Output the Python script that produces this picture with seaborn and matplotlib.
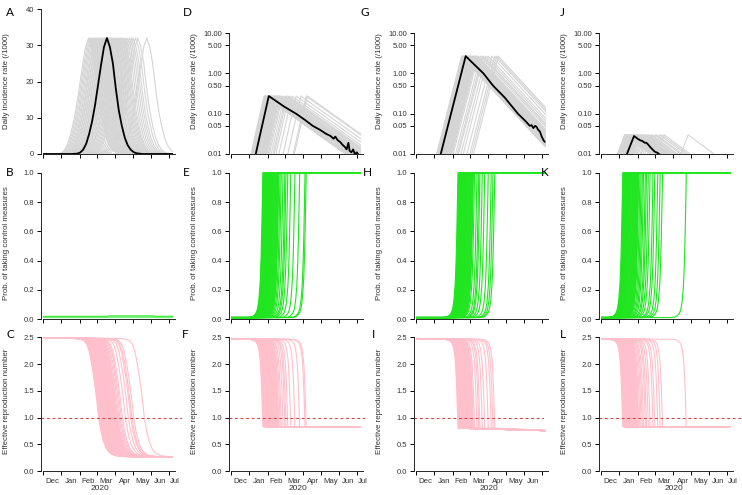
import matplotlib
matplotlib.use("Agg")
import pandas as pd
import matplotlib.pyplot as plt
import seaborn as sns
from matplotlib.patches import Rectangle
from matplotlib.ticker import FixedLocator, FixedFormatter, NullFormatter, NullLocator

# x axis is days since 1 Dec 2019
MONTH_STARTS = [0, 31, 62, 91, 122, 152, 183, 213]
MONTH_LABEL_DAYS = [16, 47, 77, 107, 138, 168, 198, 222]
MONTH_LABELS = ["Dec", "Jan", "Feb", "Mar", "Apr", "May", "Jun", "Jul"]
LAST_DAY = 220

# ---- column 1 (A, B, C) ----
A_SHAPE_OFFSETS = [-60, -50, -45, -40, -35, -30, -25, -20, -15, -10, -5, 0,
                   5, 10, 15, 20, 25, 30, 35, 40, 45, 50, 60]
A_SHAPE_VALUES = [0.0, 0.1, 0.4, 1.2, 2.8, 5.5, 9.0, 13.5, 19.0, 24.5, 29.5, 32.0,
                  29.5, 25.0, 18.0, 12.0, 7.8, 4.5, 2.4, 1.2, 0.5, 0.2, 0.0]
A_BLACK_PEAK = 108
A_GREY_PEAKS = [77, 79, 81, 83, 85, 87, 89, 90, 92, 93, 95, 96, 98, 99, 101, 102,
                104, 105, 107, 109, 110, 112, 113, 115, 116, 118, 120, 121, 123, 125,
                127, 129, 131, 133, 135, 137, 140, 143, 146, 149, 152, 156, 160, 175]
A_DAMPED_PEAKS = [121]
A_DAMPED_SCALES = [0.05]

B_DAYS = [0, 108, 112, 185, 190, 220]
B_RUNS = [
    [0.017, 0.017, 0.017, 0.017, 0.017, 0.017],
    [0.017, 0.017, 0.020, 0.020, 0.017, 0.017],
    [0.017, 0.017, 0.021, 0.021, 0.018, 0.018],
]

C_SHAPE_OFFSETS = [-45, -32, -25, -20, -16, -12, -8, -4, 0, 4, 8, 12, 16, 21, 27, 35, 45]
C_SHAPE_VALUES = [2.48, 2.47, 2.44, 2.37, 2.24, 2.02, 1.74, 1.40, 1.0, 0.74, 0.56,
                  0.44, 0.37, 0.32, 0.29, 0.275, 0.27]
C_FLOOR = 0.27
C_CROSS_DAYS = [94, 95, 96, 97, 98, 99, 100, 101, 102, 103, 104, 105, 106, 107, 108,
                109, 110, 111, 112, 113, 114, 115, 116, 117, 118, 119, 120, 121, 122,
                123, 124, 125, 126, 128, 130, 132, 134, 139, 144, 148, 150, 153, 171]

# ---- columns 2-4: probability of control measures ----
P_SHAPE_OFFSETS = [-26, -20, -16, -13, -11, -9, -7, -5, -4, -3, -2, -1, 0]
P_SHAPE_VALUES = [0.01, 0.013, 0.02, 0.032, 0.045, 0.07, 0.12, 0.22, 0.30, 0.42,
                  0.58, 0.78, 1.0]
P_BASE = 0.01

E_HIT_DAYS = [54, 55, 55, 56, 57, 57, 58, 59, 59, 60, 61, 61, 62, 63, 63, 64, 65, 65,
              66, 67, 67, 68, 69, 70, 70, 71, 72, 73, 74, 75, 76, 77, 78, 79, 80, 81,
              83, 85, 88, 91, 93, 96, 101, 108, 116, 125, 127]
H_HIT_DAYS = [71, 72, 73, 73, 74, 75, 75, 76, 77, 77, 78, 79, 79, 80, 81, 82, 82, 83,
              84, 85, 85, 86, 87, 88, 89, 90, 91, 92, 93, 94, 95, 96, 97, 99, 103, 106,
              108, 112, 116, 122, 127, 130, 133]
K_HIT_DAYS = [37, 38, 39, 39, 40, 41, 41, 42, 43, 43, 44, 45, 45, 46, 47, 48, 48, 49,
              50, 51, 52, 53, 54, 55, 56, 57, 58, 59, 60, 61, 62, 63, 64, 66, 68, 70,
              72, 75, 77, 80, 83, 88, 91, 96, 100, 104, 144]

R0 = 2.48
RE_FLOOR_START = [0.83, 0.80, 0.83]
RE_FLOOR_END = [0.82, 0.745, 0.83]

# ---- columns 2-4: incidence on log scale (grey runs + one black run) ----
TRI_OFFSETS = [[-22, 0, 150], [-42, 0, 140], [-12, 0, 45]]
TRI_VALUES = [[0.01, 0.275, 0.0073], [0.01, 2.7, 0.0155], [0.01, 0.03, 0.0096]]
PEAK_LAGS = [2, 6, 3]

D_BLACK_DAYS = [42, 64, 90, 110, 125, 138, 150, 160, 168, 173, 176, 180, 184, 188,
                192, 195, 198, 200, 203, 206, 209, 212, 215]
D_BLACK_VALUES = [0.01, 0.275, 0.15, 0.10, 0.07, 0.05, 0.04, 0.032, 0.028, 0.024,
                  0.027, 0.022, 0.020, 0.017, 0.015, 0.013, 0.019, 0.012, 0.011,
                  0.013, 0.0098, 0.011, 0.0095]
G_BLACK_DAYS = [42, 84, 114, 130, 150, 172, 185, 192, 195, 198, 201, 203, 206, 209,
                212, 215, 217]
G_BLACK_VALUES = [0.01, 2.7, 1.0, 0.5, 0.25, 0.10, 0.065, 0.05, 0.052, 0.044, 0.05,
                  0.048, 0.04, 0.036, 0.027, 0.022, 0.02]
J_BLACK_DAYS = [44, 56, 62, 66, 70, 74, 77, 80, 83, 87, 91, 95, 99]
J_BLACK_VALUES = [0.01, 0.028, 0.024, 0.022, 0.021, 0.019, 0.019, 0.017, 0.015,
                  0.013, 0.0114, 0.0108, 0.0098]

LOG_TICKS = [0.01, 0.05, 0.1, 0.5, 1, 5, 10]
LOG_TICK_LABELS = ["0.01", "0.05", "0.10", "0.50", "1.00", "5.00", "10.00"]

GREY = "#d5d5d5"
GREEN = "#1fe61f"
PINK = "#ffc0cb"
RED = "#d94040"

# layout in pixels
FIG_W, FIG_H = 742, 495
COL_LEFT = [41, 229, 414, 599]
COL_WIDTH = [141, 136, 130, 142]
ROW_TOP = [9, 167, 332]
ROW_BOTTOM = [154, 319, 471]
PX_PER_DAY = 0.594
X_LEFT = -3
LETTERS = [["A", "B", "C"], ["D", "E", "F"], ["G", "H", "I"], ["J", "K", "L"]]
LETTER_X = [[10, 10, 10], [187, 186, 185], [365, 367, 373], [562, 545, 563]]
LETTER_Y = [12, 173, 335]
YEAR_X = [96, 113, 123, 124]


def shifted_runs(centres, offsets, values, head=None, tail=None, scales=None):
    rows = []
    for run, c in enumerate(centres):
        s = 1.0 if scales is None else scales[run]
        days = [c + o for o in offsets]
        vals = [v * s for v in values]
        if head is not None:
            days = [-10] + days
            vals = [head] + vals
        if tail is not None:
            days = days + [250]
            vals = vals + [tail]
        rows += [(run, d, v) for d, v in zip(days, vals)]
    return pd.DataFrame(rows, columns=["run", "day", "value"])


def draw(ax, df, color, lw, clip_y, alpha=1.0):
    n0 = len(ax.lines)
    sns.lineplot(data=df, x="day", y="value", units="run", estimator=None,
                 color=color, linewidth=lw, alpha=alpha, ax=ax, legend=False)
    for line in ax.lines[n0:]:
        line.set_clip_path(Rectangle((0, clip_y[0]), LAST_DAY, clip_y[1] - clip_y[0],
                                     transform=ax.transData))


sns.set_theme(style="ticks")
plt.rcParams["font.family"] = ["Liberation Sans", "DejaVu Sans"]
plt.rcParams["axes.linewidth"] = 0.7

fig = plt.figure(figsize=(FIG_W / 100, FIG_H / 100), dpi=100)

for col in range(4):
    for row in range(3):
        left = COL_LEFT[col] / FIG_W
        bottom = 1 - ROW_BOTTOM[row] / FIG_H
        height = (ROW_BOTTOM[row] - ROW_TOP[row]) / FIG_H
        ax = fig.add_axes([left, bottom, COL_WIDTH[col] / FIG_W, height])

        if row == 0:
            if col == 0:
                grey = shifted_runs(A_GREY_PEAKS, A_SHAPE_OFFSETS, A_SHAPE_VALUES, 0.0, 0.0)
                damped = shifted_runs(A_DAMPED_PEAKS, A_SHAPE_OFFSETS, A_SHAPE_VALUES,
                                      0.0, 0.0, A_DAMPED_SCALES)
                black = shifted_runs([A_BLACK_PEAK], A_SHAPE_OFFSETS, A_SHAPE_VALUES, 0.0, 0.0)
                draw(ax, grey, GREY, 0.8, (-2, 41))
                draw(ax, damped, GREY, 0.8, (-2, 41))
                draw(ax, black, "black", 1.3, (-2, 41))
                ylim, ybounds = (0, 40), (0, 40)
                yticks = [0, 10, 20, 30, 40]
                ylabels = ["0", "10", "20", "30", "40"]
            else:
                ax.set_yscale("log")
                hits = [E_HIT_DAYS, H_HIT_DAYS, K_HIT_DAYS][col - 1]
                peaks = [h + PEAK_LAGS[col - 1] for h in hits]
                grey = shifted_runs(peaks, TRI_OFFSETS[col - 1], TRI_VALUES[col - 1])
                bd = [D_BLACK_DAYS, G_BLACK_DAYS, J_BLACK_DAYS][col - 1]
                bv = [D_BLACK_VALUES, G_BLACK_VALUES, J_BLACK_VALUES][col - 1]
                black = pd.DataFrame({"run": 0, "day": bd, "value": bv})
                draw(ax, grey, GREY, 0.8, (0.01, 40))
                draw(ax, black, "black", 1.3, (0.01, 40))
                ylim, ybounds = (0.01, 40), (0.01, 10)
                yticks, ylabels = LOG_TICKS, LOG_TICK_LABELS
            ylab = "Daily incidence rate (/1000)"
        elif row == 1:
            if col == 0:
                b = pd.DataFrame([(r, d, v) for r, vals in enumerate(B_RUNS)
                                  for d, v in zip(B_DAYS, vals)],
                                 columns=["run", "day", "value"])
                draw(ax, b, GREEN, 1.0, (-0.05, 1.06), alpha=0.55)
            else:
                hits = [E_HIT_DAYS, H_HIT_DAYS, K_HIT_DAYS][col - 1]
                g = shifted_runs(hits, P_SHAPE_OFFSETS, P_SHAPE_VALUES, P_BASE, 1.0)
                draw(ax, g, GREEN, 0.8, (-0.05, 1.06))
            ylim, ybounds = (0, 1.04), (0, 1)
            yticks = [0, 0.2, 0.4, 0.6, 0.8, 1.0]
            ylabels = ["0.0", "0.2", "0.4", "0.6", "0.8", "1.0"]
            ylab = "Prob. of taking control measures"
        else:
            if col == 0:
                p = shifted_runs(C_CROSS_DAYS, C_SHAPE_OFFSETS, C_SHAPE_VALUES, R0, C_FLOOR)
            else:
                hits = [E_HIT_DAYS, H_HIT_DAYS, K_HIT_DAYS][col - 1]
                floor = RE_FLOOR_START[col - 1]
                re_shape = [R0 - (R0 - floor) * v for v in P_SHAPE_VALUES]
                p = shifted_runs(hits, P_SHAPE_OFFSETS, re_shape, R0, RE_FLOOR_END[col - 1])
            draw(ax, p, PINK, 0.8, (-0.1, 2.62))
            ax.axhline(1.0, color=RED, lw=0.8, ls=(0, (2.5, 2.5)))
            ylim, ybounds = (0, 2.6), (0, 2.5)
            yticks = [0, 0.5, 1.0, 1.5, 2.0, 2.5]
            ylabels = ["0.0", "0.5", "1.0", "1.5", "2.0", "2.5"]
            ylab = "Effective reproduction number"

        ax.set_xlim(X_LEFT, X_LEFT + COL_WIDTH[col] / PX_PER_DAY)
        ax.set_ylim(*ylim)
        sns.despine(ax=ax)
        ax.spines["left"].set_bounds(*ybounds)
        ax.spines["bottom"].set_bounds(0, 223)
        ax.xaxis.set_major_locator(FixedLocator(MONTH_STARTS))
        ax.xaxis.set_major_formatter(NullFormatter())
        if row == 2:
            ax.xaxis.set_minor_locator(FixedLocator(MONTH_LABEL_DAYS))
            ax.xaxis.set_minor_formatter(FixedFormatter(MONTH_LABELS))
            ax.tick_params(axis="x", which="minor", length=0, pad=5,
                           labelsize=5.6, labelcolor="#333333")
        else:
            ax.xaxis.set_minor_locator(NullLocator())
        ax.yaxis.set_major_locator(FixedLocator(yticks))
        ax.yaxis.set_major_formatter(FixedFormatter(ylabels))
        ax.yaxis.set_minor_locator(NullLocator())
        ax.tick_params(axis="both", which="major", length=3, width=0.7, pad=2,
                       labelsize=5.5, labelcolor="#333333", color="black")
        ax.set_xlabel("")
        ax.set_ylabel(ylab, fontsize=5.7, color="#333333")
        ax.yaxis.set_label_coords(-31 / COL_WIDTH[col], 0.5)
        ax.grid(False)

        fig.text(LETTER_X[col][row] / FIG_W, 1 - LETTER_Y[row] / FIG_H,
                 LETTERS[col][row], fontsize=8.5, family=["Lato", "DejaVu Sans"],
                 ha="center", va="center", color="black")
        if row == 2:
            ax.text(YEAR_X[col], -0.128, "2020", fontsize=6, color="#333333",
                    ha="center", va="center",
                    transform=ax.get_xaxis_transform())

fig.savefig("out.png", dpi=100)
